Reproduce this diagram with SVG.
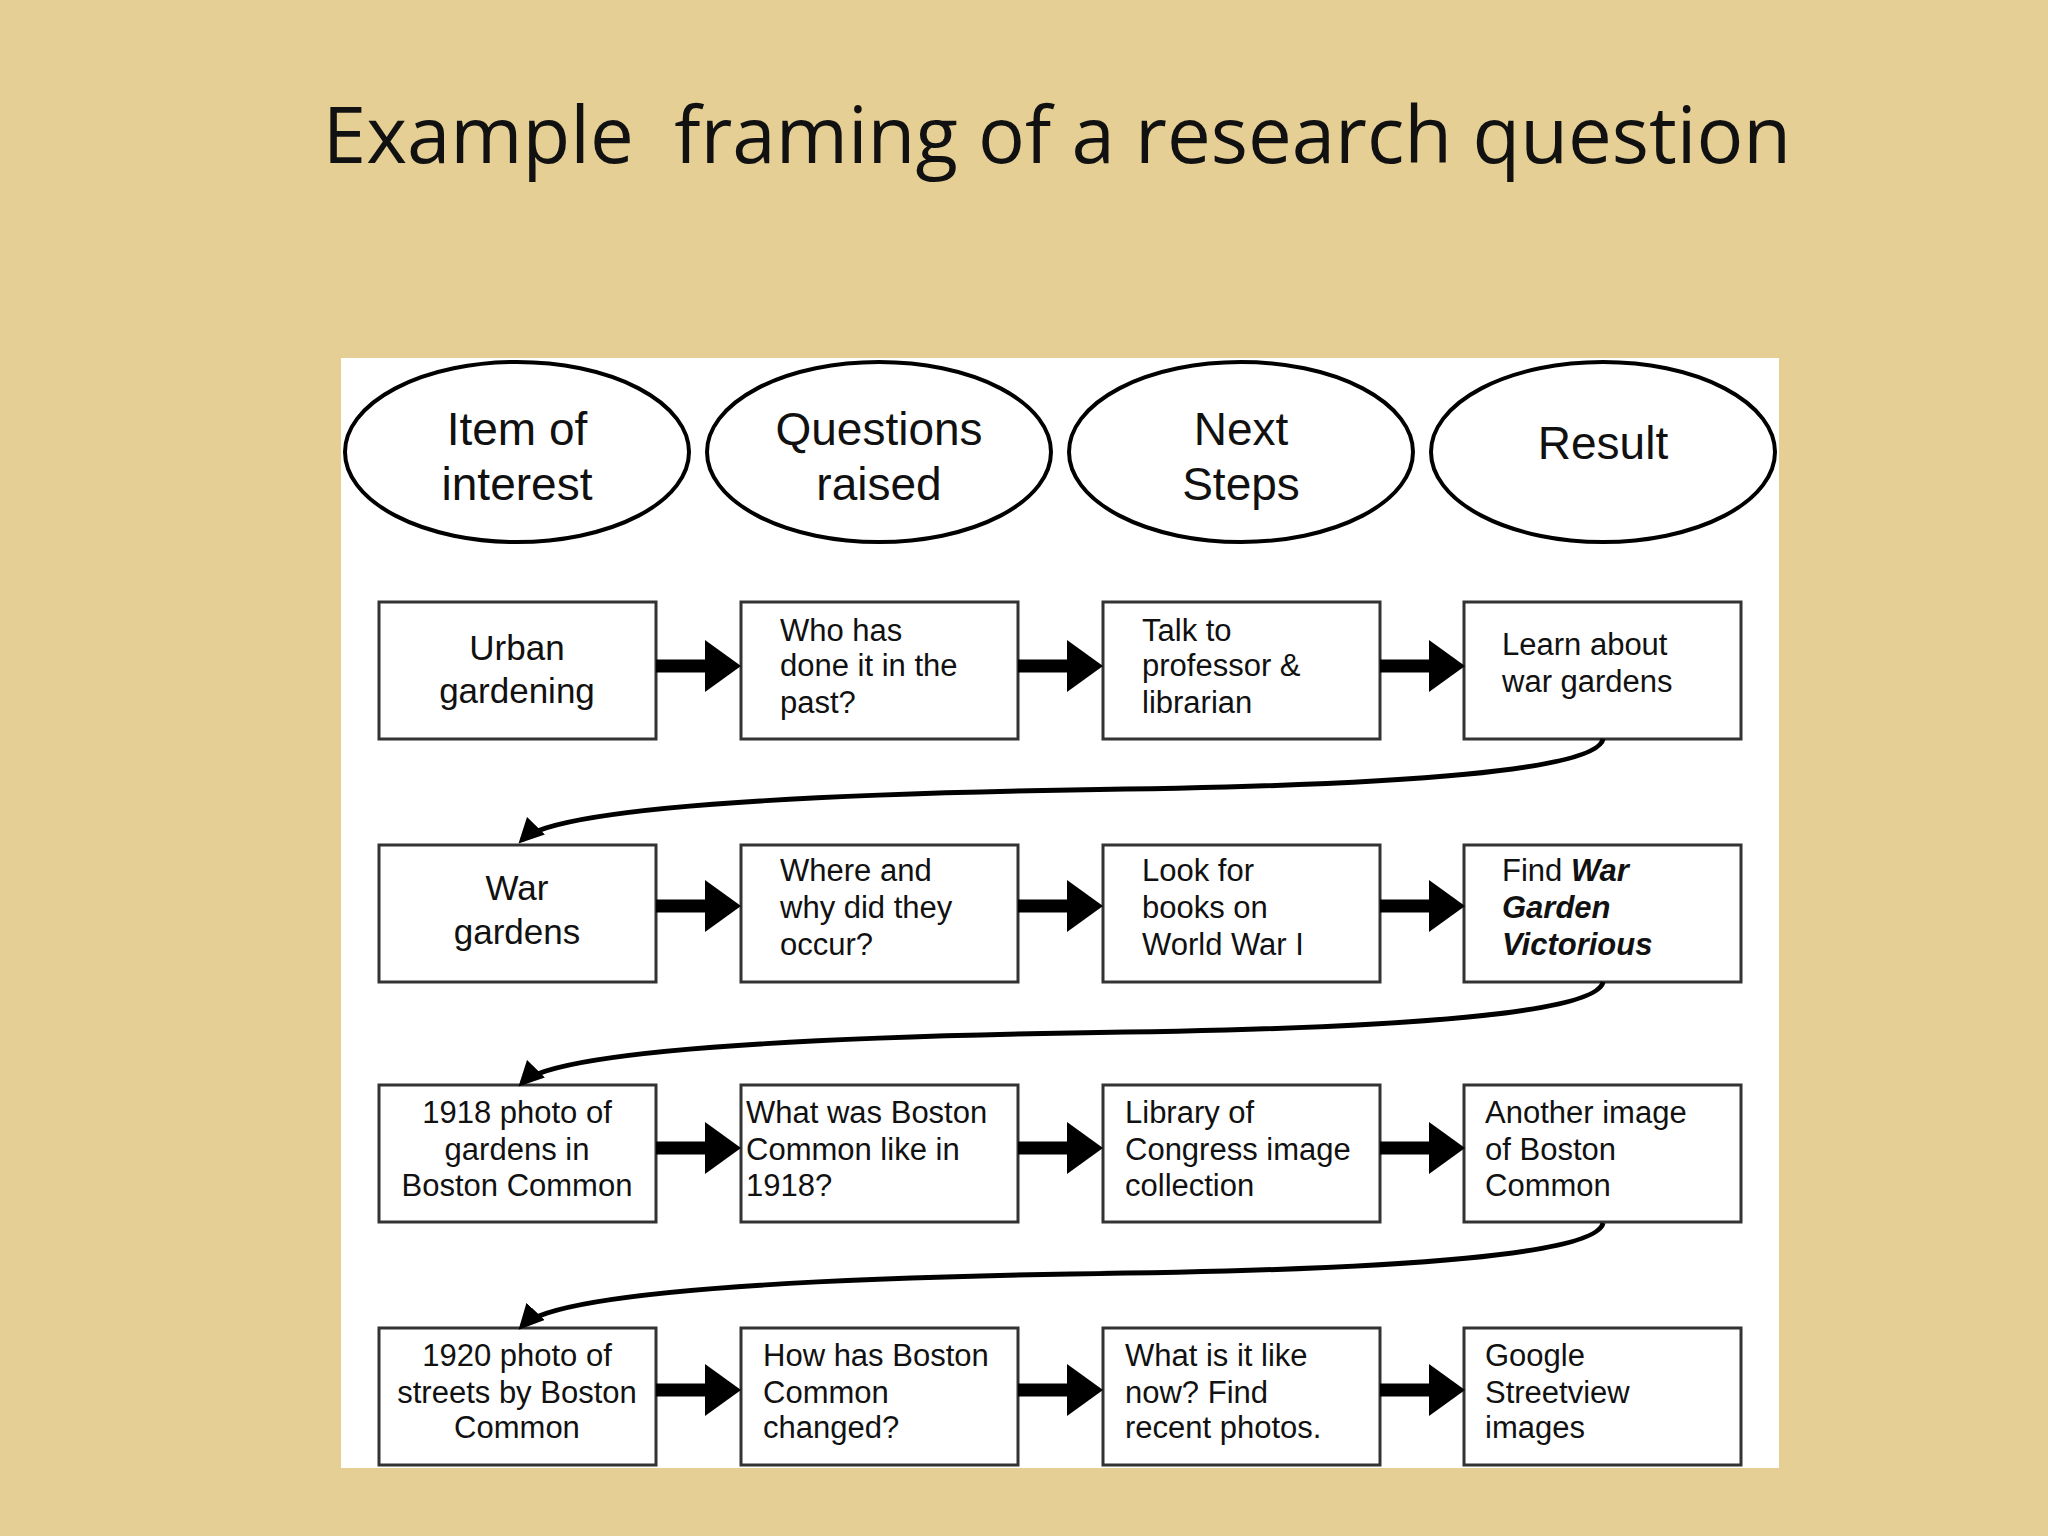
<svg xmlns="http://www.w3.org/2000/svg" width="2048" height="1536" viewBox="0 0 2048 1536">
<defs>
<style>
.e{fill:#fff;stroke:#000;stroke-width:4}
.b{fill:#fff;stroke:#333;stroke-width:3}
.h{font-family:"Liberation Sans",Arial,sans-serif;font-size:46px;fill:#111;text-anchor:middle}
.t{font-family:"Liberation Sans",Arial,sans-serif;font-size:31px;fill:#111}
.c{text-anchor:middle;font-size:35px}
.a{stroke:#000;stroke-width:13;fill:none}
.k{fill:none;stroke:#000;stroke-width:5}
</style>
<marker id="m" viewBox="0 0 10 10" refX="8" refY="5" markerWidth="5" markerHeight="5" orient="auto"><path d="M0,0L10,5L0,10z"/></marker>
<path id="ar" d="M0,-26L36,0L0,26z"/>
</defs>
<rect width="2048" height="1536" fill="#E6CF94"/>
<text x="1057" y="163" font-family="Open Sans,Liberation Sans,sans-serif" font-size="78" text-anchor="middle" fill="#111" style="white-space:pre">Example  framing of a research question</text>
<rect x="341" y="358" width="1438" height="1110" fill="#fff"/>
<g id="h1"><ellipse class="e" cx="517" cy="452" rx="172" ry="90"/><text class="h" x="517" y="445">Item of</text><text class="h" x="517" y="500">interest</text></g>
<g id="h2"><ellipse class="e" cx="879" cy="452" rx="172" ry="90"/><text class="h" x="879" y="445">Questions</text><text class="h" x="879" y="500">raised</text></g>
<g id="h3"><ellipse class="e" cx="1241" cy="452" rx="172" ry="90"/><text class="h" x="1241" y="445">Next</text><text class="h" x="1241" y="500">Steps</text></g>
<g id="h4"><ellipse class="e" cx="1603" cy="452" rx="172" ry="90"/><text class="h" x="1603" y="459">Result</text></g>

<g id="r1">
<rect class="b" x="379" y="602" width="277" height="137"/><text class="t c" x="517" y="660">Urban</text><text class="t c" x="517" y="703">gardening</text>
<rect class="b" x="741" y="602" width="277" height="137"/><text class="t" x="780" y="641">Who has</text><text class="t" x="780" y="676">done it in the</text><text class="t" x="780" y="713">past?</text>
<rect class="b" x="1103" y="602" width="277" height="137"/><text class="t" x="1142" y="641">Talk to</text><text class="t" x="1142" y="676">professor &amp;</text><text class="t" x="1142" y="713">librarian</text>
<rect class="b" x="1464" y="602" width="277" height="137"/><text class="t" x="1502" y="655">Learn about</text><text class="t" x="1502" y="692">war gardens</text>
</g>
<g id="r2">
<rect class="b" x="379" y="845" width="277" height="137"/><text class="t c" x="517" y="900">War</text><text class="t c" x="517" y="944">gardens</text>
<rect class="b" x="741" y="845" width="277" height="137"/><text class="t" x="780" y="881">Where and</text><text class="t" x="780" y="918">why did they</text><text class="t" x="780" y="955">occur?</text>
<rect class="b" x="1103" y="845" width="277" height="137"/><text class="t" x="1142" y="881">Look for</text><text class="t" x="1142" y="918">books on</text><text class="t" x="1142" y="955">World War I</text>
<rect class="b" x="1464" y="845" width="277" height="137"/><text class="t" x="1502" y="881">Find <tspan font-weight="bold" font-style="italic">War</tspan></text><text class="t" x="1502" y="918" font-weight="bold" font-style="italic">Garden</text><text class="t" x="1502" y="955" font-weight="bold" font-style="italic">Victorious</text>
</g>
<g id="r3">
<rect class="b" x="379" y="1085" width="277" height="137"/><text class="t" text-anchor="middle" x="517" y="1123">1918 photo of</text><text class="t" text-anchor="middle" x="517" y="1160">gardens in</text><text class="t" text-anchor="middle" x="517" y="1196">Boston Common</text>
<rect class="b" x="741" y="1085" width="277" height="137"/><text class="t" x="746" y="1123">What was Boston</text><text class="t" x="746" y="1160">Common like in</text><text class="t" x="746" y="1196">1918?</text>
<rect class="b" x="1103" y="1085" width="277" height="137"/><text class="t" x="1125" y="1123">Library of</text><text class="t" x="1125" y="1160">Congress image</text><text class="t" x="1125" y="1196">collection</text>
<rect class="b" x="1464" y="1085" width="277" height="137"/><text class="t" x="1485" y="1123">Another image</text><text class="t" x="1485" y="1160">of Boston</text><text class="t" x="1485" y="1196">Common</text>
</g>
<g id="r4">
<rect class="b" x="379" y="1328" width="277" height="137"/><text class="t" text-anchor="middle" x="517" y="1366">1920 photo of</text><text class="t" text-anchor="middle" x="517" y="1403">streets by Boston</text><text class="t" text-anchor="middle" x="517" y="1438">Common</text>
<rect class="b" x="741" y="1328" width="277" height="137"/><text class="t" x="763" y="1366">How has Boston</text><text class="t" x="763" y="1403">Common</text><text class="t" x="763" y="1438">changed?</text>
<rect class="b" x="1103" y="1328" width="277" height="137"/><text class="t" x="1125" y="1366">What is it like</text><text class="t" x="1125" y="1403">now? Find</text><text class="t" x="1125" y="1438">recent photos.</text>
<rect class="b" x="1464" y="1328" width="277" height="137"/><text class="t" x="1485" y="1366">Google</text><text class="t" x="1485" y="1403">Streetview</text><text class="t" x="1485" y="1438">images</text>
</g>
<g id="connectors">
<g transform="translate(0,666)"><path class="a" d="M656,0H706M1018,0H1068M1380,0H1430"/><use href="#ar" x="705"/><use href="#ar" x="1067"/><use href="#ar" x="1429"/></g>
<g transform="translate(0,906)"><path class="a" d="M656,0H706M1018,0H1068M1380,0H1430"/><use href="#ar" x="705"/><use href="#ar" x="1067"/><use href="#ar" x="1429"/></g>
<g transform="translate(0,1148)"><path class="a" d="M656,0H706M1018,0H1068M1380,0H1430"/><use href="#ar" x="705"/><use href="#ar" x="1067"/><use href="#ar" x="1429"/></g>
<g transform="translate(0,1390)"><path class="a" d="M656,0H706M1018,0H1068M1380,0H1430"/><use href="#ar" x="705"/><use href="#ar" x="1067"/><use href="#ar" x="1429"/></g>
<path class="k" marker-end="url(#m)" d="M1603,739 Q1594,784 1071,790 Q562,799 522,840"/>
<path class="k" marker-end="url(#m)" d="M1603,982 Q1594,1027 1071,1033 Q562,1042 522,1083"/>
<path class="k" marker-end="url(#m)" d="M1603,1223 Q1594,1268 1071,1274 Q562,1283 522,1326"/>
</g>
</svg>
